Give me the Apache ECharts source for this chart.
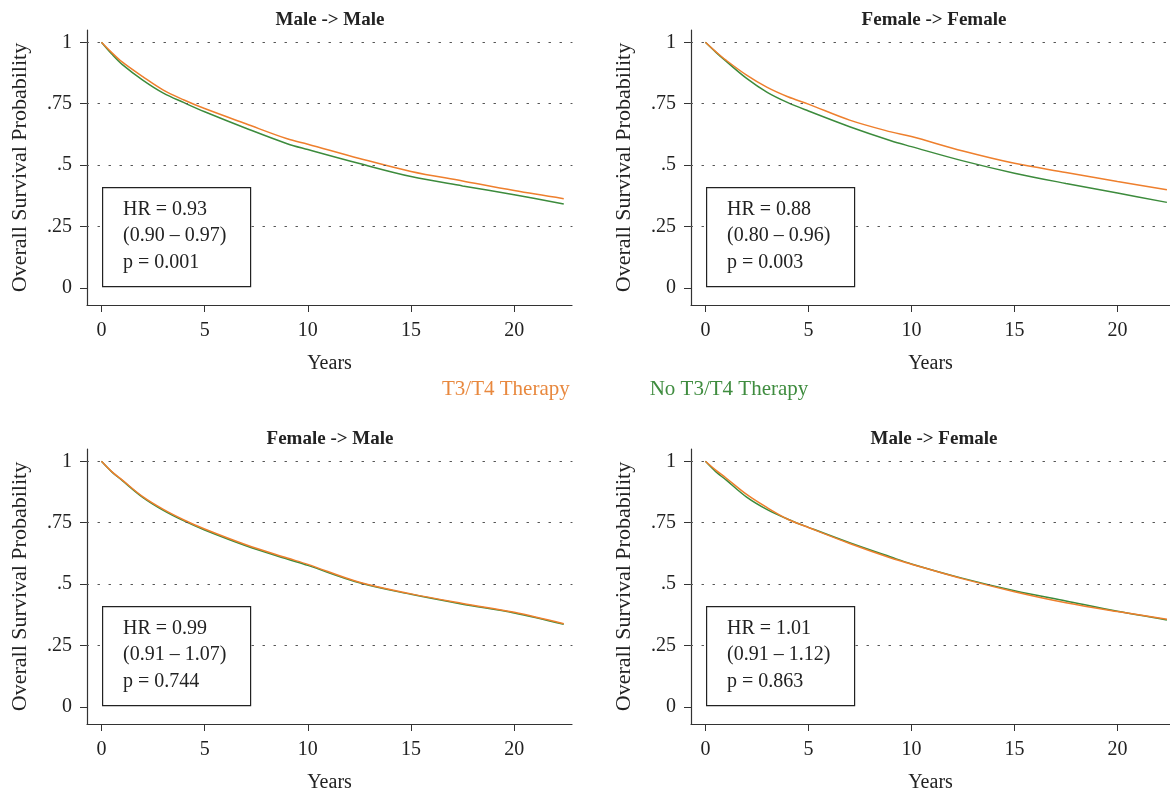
<!DOCTYPE html>
<html>
<head>
<meta charset="utf-8">
<script src="https://cdn.jsdelivr.net/npm/echarts@6/dist/echarts.min.js"></script>
<style>
  html, body { margin: 0; padding: 0; background: #fff; }
  #chart { width: 1170px; height: 790px; }
</style>
</head>
<body>
<div id="chart"></div>
<script>
var years = [0, 0.5, 1, 2, 3, 4, 5, 7, 9, 10, 12.5, 15, 17.5, 20, 22.4];

// Male -> Male
var mmTherapy   = [1, 0.958, 0.92, 0.86, 0.805, 0.765, 0.73, 0.668, 0.607, 0.585, 0.527, 0.474, 0.435, 0.396, 0.363];
var mmNoTherapy = [1, 0.952, 0.91, 0.846, 0.793, 0.754, 0.717, 0.65, 0.587, 0.563, 0.506, 0.453, 0.415, 0.379, 0.341];
// Female -> Female
var ffTherapy   = [1, 0.962, 0.927, 0.866, 0.816, 0.778, 0.748, 0.683, 0.635, 0.616, 0.557, 0.507, 0.47, 0.433, 0.399];
var ffNoTherapy = [1, 0.96, 0.923, 0.853, 0.796, 0.754, 0.72, 0.656, 0.599, 0.575, 0.517, 0.467, 0.425, 0.386, 0.348];
// Female -> Male
var fmTherapy   = [1, 0.958, 0.924, 0.856, 0.804, 0.761, 0.724, 0.66, 0.606, 0.58, 0.507, 0.46, 0.421, 0.385, 0.338];
var fmNoTherapy = [1, 0.957, 0.922, 0.853, 0.80, 0.757, 0.72, 0.656, 0.602, 0.576, 0.505, 0.458, 0.418, 0.382, 0.336];
// Male -> Female
var mfTherapy   = [1, 0.964, 0.932, 0.865, 0.811, 0.764, 0.73, 0.665, 0.606, 0.581, 0.521, 0.469, 0.424, 0.388, 0.357];
var mfNoTherapy = [1, 0.958, 0.924, 0.854, 0.803, 0.764, 0.731, 0.668, 0.61, 0.582, 0.523, 0.473, 0.431, 0.389, 0.354];

var panelTitles = ['Male -> Male', 'Female -> Female', 'Female -> Male', 'Male -> Female'];
var hrTexts = [
  ['HR = 0.93', '(0.90 \u2013 0.97)', 'p = 0.001'],
  ['HR = 0.88', '(0.80 \u2013 0.96)', 'p = 0.003'],
  ['HR = 0.99', '(0.91 \u2013 1.07)', 'p = 0.744'],
  ['HR = 1.01', '(0.91 \u2013 1.12)', 'p = 0.863']
];
var xTicks = [0, 5, 10, 15, 20];
var yTicks = [0, 0.25, 0.5, 0.75, 1];
var gridLines = [0.25, 0.5, 0.75, 1];
var seriesNames = ['T3/T4 Therapy', 'No T3/T4 Therapy'];

var ORANGE = '#EE7F2D';
var GREEN = '#3C8B3C';
var FONT = '"Liberation Serif", "DejaVu Serif", serif';

var grids = [
  {left: 87, top: 30, width: 485, height: 275, outerBoundsMode: 'none'},
  {left: 691, top: 30, width: 479, height: 275, outerBoundsMode: 'none'},
  {left: 87, top: 449, width: 485, height: 275, outerBoundsMode: 'none'},
  {left: 691, top: 449, width: 479, height: 275, outerBoundsMode: 'none'}
];
var xMax = [22.8, 22.55, 22.8, 22.55];

function pairs(arr) {
  return years.map(function (y, i) { return [y, arr[i]]; });
}

var chart = echarts.init(document.getElementById('chart'));

var xAxes = [], yAxes = [], titles = [], series = [], graphics = [];
var panels = [
  [mmTherapy, mmNoTherapy],
  [ffTherapy, ffNoTherapy],
  [fmTherapy, fmNoTherapy],
  [mfTherapy, mfNoTherapy]
];

grids.forEach(function (g, i) {
  xAxes.push({
    type: 'value', gridIndex: i, min: -0.7, max: xMax[i],
    name: 'Years', nameLocation: 'middle', nameGap: 49,
    nameTextStyle: {fontFamily: FONT, fontSize: 20, color: '#222'},
    axisLine: {onZero: false, lineStyle: {color: '#333', width: 1.2}},
    axisTick: {show: true, length: 7, customValues: xTicks, lineStyle: {color: '#333'}},
    axisLabel: {customValues: xTicks, fontFamily: FONT, fontSize: 20, color: '#222', margin: 16},
    splitLine: {show: false}
  });
  yAxes.push({
    type: 'value', gridIndex: i, min: -0.07, max: 1.05,
    name: 'Overall Survival Probability', nameLocation: 'middle', nameGap: 56,
    nameTextStyle: {fontFamily: FONT, fontSize: 22, color: '#222'},
    axisLine: {show: true, onZero: false, lineStyle: {color: '#333', width: 1.2}},
    axisTick: {show: true, length: 7, customValues: yTicks, lineStyle: {color: '#333'}},
    axisLabel: {
      customValues: yTicks, fontFamily: FONT, fontSize: 20, color: '#222', margin: 15,
      formatter: function (v) { return v === 0 ? '0' : v === 1 ? '1' : String(v).replace(/^0/, ''); }
    },
    splitLine: {show: false}
  });
  titles.push({
    text: panelTitles[i],
    left: g.left + 238, top: g.top - 24, textAlign: 'center',
    textStyle: {fontFamily: FONT, fontSize: 19, fontWeight: 'bold', color: '#222'}
  });
  series.push({
    name: seriesNames[1], type: 'line', xAxisIndex: i, yAxisIndex: i,
    data: pairs(panels[i][1]), smooth: 0.35, showSymbol: false,
    lineStyle: {color: GREEN, width: 1.5}, itemStyle: {color: GREEN},
    markLine: {
      silent: true, symbol: ['none', 'none'], label: {show: false}, animation: false,
      lineStyle: {color: '#555', type: [1.5, 9.5], width: 1.2, cap: 'round'},
      data: gridLines.map(function (v) { return {yAxis: v}; })
    }
  });
  series.push({
    name: seriesNames[0], type: 'line', xAxisIndex: i, yAxisIndex: i,
    data: pairs(panels[i][0]), smooth: 0.35, showSymbol: false,
    lineStyle: {color: ORANGE, width: 1.5}, itemStyle: {color: ORANGE}
  });
  // HR annotation box
  var bx = g.left + 15, by = g.top + 157;
  graphics.push({
    type: 'rect', left: bx, top: by, z: 10,
    shape: {width: 148, height: 99},
    style: {fill: '#fff', stroke: '#222', lineWidth: 1.2}
  });
  graphics.push({
    type: 'text', left: bx + 21, top: by + 9, z: 11,
    style: {text: hrTexts[i].join('\n'), font: '20px ' + FONT, fill: '#222', lineHeight: 26.5}
  });
});

chart.setOption({
  animation: false,
  title: titles,
  legend: {
    data: [
      {name: seriesNames[0], textStyle: {color: '#E8883E'}},
      {name: seriesNames[1], textStyle: {color: '#3F8C3F'}}
    ],
    icon: 'none', itemWidth: 0, itemHeight: 0, itemGap: 75,
    left: 432, top: 374,
    textStyle: {fontFamily: FONT, fontSize: 21}
  },
  grid: grids,
  xAxis: xAxes,
  yAxis: yAxes,
  series: series,
  graphic: graphics
});
</script>
</body>
</html>
